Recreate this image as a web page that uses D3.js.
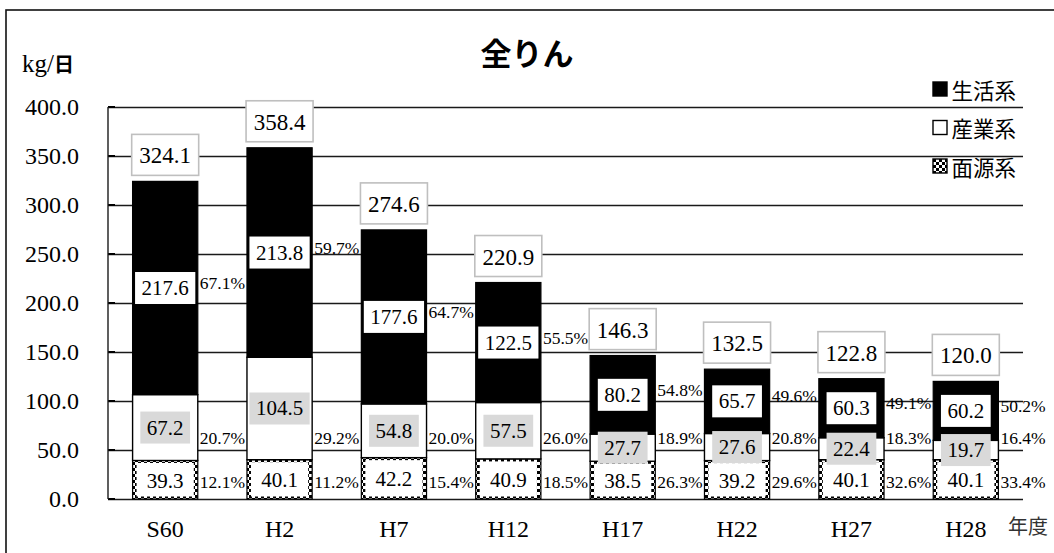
<!DOCTYPE html>
<html>
<head>
<meta charset="utf-8">
<script src="https://cdn.jsdelivr.net/npm/d3@7"></script>
<style>
  html, body { margin: 0; padding: 0; background: #fff; }
  svg { display: block; }
  .serif { font-family: "Liberation Serif", serif; }
  .gothic { font-family: "Noto Sans CJK JP", sans-serif; }
</style>
</head>
<body>
<svg id="chart" width="1054" height="553"></svg>
<script>
// ---------- data ----------
const categories   = ["S60", "H2", "H7", "H12", "H17", "H22", "H27", "H28"];
const lifeValues   = [217.6, 213.8, 177.6, 122.5, 80.2, 65.7, 60.3, 60.2];   // 生活系
const industryVals = [67.2, 104.5, 54.8, 57.5, 27.7, 27.6, 22.4, 19.7];       // 産業系
const nonpointVals = [39.3, 40.1, 42.2, 40.9, 38.5, 39.2, 40.1, 40.1];        // 面源系
const totalValues  = [324.1, 358.4, 274.6, 220.9, 146.3, 132.5, 122.8, 120.0];
const lifePct      = ["67.1%", "59.7%", "64.7%", "55.5%", "54.8%", "49.6%", "49.1%", "50.2%"];
const industryPct  = ["20.7%", "29.2%", "20.0%", "26.0%", "18.9%", "20.8%", "18.3%", "16.4%"];
const nonpointPct  = ["12.1%", "11.2%", "15.4%", "18.5%", "26.3%", "29.6%", "32.6%", "33.4%"];
const yTicks       = [0, 50, 100, 150, 200, 250, 300, 350, 400];
const legendNames  = ["生活系", "産業系", "面源系"];
const titleText    = "全りん";

// ---------- layout ----------
const plotL = 108, plotR = 1023, plotT = 107, plotB = 499;

const svg = d3.select("#chart");

// outer frame
svg.append("rect").attr("x", 6).attr("y", 10).attr("width", 1200).attr("height", 700)
  .attr("fill", "none").attr("stroke", "#111").attr("stroke-width", 1.6);

// checker pattern
const defs = svg.append("defs");
const pat = defs.append("pattern").attr("id", "checker").attr("patternUnits", "userSpaceOnUse")
  .attr("width", 6).attr("height", 6);
pat.append("rect").attr("width", 6).attr("height", 6).attr("fill", "#fff");
pat.append("rect").attr("x", 0).attr("y", 0).attr("width", 3).attr("height", 3).attr("fill", "#000");
pat.append("rect").attr("x", 3).attr("y", 3).attr("width", 3).attr("height", 3).attr("fill", "#000");

const x = d3.scaleBand().domain(categories).range([plotL, plotR]).paddingInner(0.43).paddingOuter(0.215);
const y = d3.scaleLinear().domain([0, 400]).range([plotB, plotT]);
const bw = x.bandwidth();

// y axis with gridlines
const yAxis = d3.axisLeft(y).tickValues(yTicks).tickFormat(d3.format(".1f"))
  .tickSize(-(plotR - plotL)).tickPadding(29);
const gy = svg.append("g").attr("transform", `translate(${plotL},0)`).call(yAxis)
  .attr("font-family", null).attr("font-size", null);
gy.select(".domain").remove();
gy.selectAll(".tick line").attr("stroke", "#1a1a1a").attr("stroke-width", 1.4);
gy.selectAll(".tick text").attr("class", "serif").style("font-size", "24px").attr("fill", "#000");
// small inward tick marks
svg.append("g").selectAll("line").data(yTicks).join("line")
  .attr("x1", plotL).attr("x2", plotL + 7).attr("y1", d => y(d)).attr("y2", d => y(d))
  .attr("stroke", "#000").attr("stroke-width", 2);
// vertical axis line
svg.append("line").attr("x1", plotL).attr("x2", plotL).attr("y1", y(400)).attr("y2", y(0))
  .attr("stroke", "#1a1a1a").attr("stroke-width", 1.4);

// x axis labels
const xAxis = d3.axisBottom(x).tickSize(0).tickPadding(0);
const gx = svg.append("g").attr("transform", `translate(0,${plotB})`).call(xAxis)
  .attr("font-family", null).attr("font-size", null);
gx.select(".domain").remove();
gx.selectAll(".tick text").attr("class", "serif").style("font-size", "24px").attr("fill", "#000")
  .attr("dy", null).attr("y", 38);

// stacked bars
const rows = categories.map((c, i) => ({
  c, i,
  n0: 0, n1: nonpointVals[i],
  p0: nonpointVals[i], p1: nonpointVals[i] + industryVals[i],
  l0: nonpointVals[i] + industryVals[i], l1: nonpointVals[i] + industryVals[i] + lifeValues[i]
}));

const gBars = svg.append("g");
gBars.selectAll("rect.np").data(rows).join("rect").attr("class", "np")
  .attr("x", d => x(d.c)).attr("width", bw)
  .attr("y", d => y(d.n1)).attr("height", d => y(d.n0) - y(d.n1))
  .attr("fill", "url(#checker)").attr("stroke", "#000").attr("stroke-width", 1.2);
gBars.selectAll("rect.ind").data(rows).join("rect").attr("class", "ind")
  .attr("x", d => x(d.c)).attr("width", bw)
  .attr("y", d => y(d.p1)).attr("height", d => y(d.p0) - y(d.p1))
  .attr("fill", "#fff").attr("stroke", "#000").attr("stroke-width", 1.4);
gBars.selectAll("rect.life").data(rows).join("rect").attr("class", "life")
  .attr("x", d => x(d.c)).attr("width", bw)
  .attr("y", d => y(d.l1)).attr("height", d => y(d.l0) - y(d.l1))
  .attr("fill", "#000").attr("stroke", "#000").attr("stroke-width", 1.2);

const gLab = svg.append("g");
function serifText(sel, size) {
  return sel.attr("class", "serif").style("font-size", size + "px").attr("fill", "#000");
}
// 面源系 value labels (white inset box)
rows.forEach(d => {
  const bx = x(d.c) + 4, by = y(d.n1) + 2.5, bh = y(0) - 2.5 - by;
  gLab.append("rect").attr("x", bx).attr("y", by).attr("width", bw - 8).attr("height", bh).attr("fill", "#fff");
  serifText(gLab.append("text"), 21).attr("x", x(d.c) + bw / 2).attr("y", by + bh / 2 + 1)
    .attr("text-anchor", "middle").attr("dominant-baseline", "central")
    .text(nonpointVals[d.i].toFixed(1));
});

function boxedLabel(cx, cy, txt, fill) {
  const g = gLab.append("g");
  const r = g.append("rect").attr("fill", fill);
  const t = serifText(g.append("text"), 21).attr("x", cx).attr("y", cy).attr("text-anchor", "middle")
    .attr("dominant-baseline", "central").text(txt);
  const w = t.node().getComputedTextLength() + 13;
  const h = 32;
  r.attr("x", cx - w / 2).attr("y", cy - h / 2).attr("width", w).attr("height", h);
}
rows.forEach(d => boxedLabel(x(d.c) + bw / 2, y((d.p0 + d.p1) / 2), industryVals[d.i].toFixed(1), "#d9d9d9"));
rows.forEach(d => boxedLabel(x(d.c) + bw / 2, y((d.l0 + d.l1) / 2), lifeValues[d.i].toFixed(1), "#fff"));

// total labels
rows.forEach(d => {
  const cx = x(d.c) + bw / 2, bottom = y(totalValues[d.i]) - 6, h = 41, w = 67;
  gLab.append("rect").attr("x", cx - w / 2).attr("y", bottom - h).attr("width", w).attr("height", h)
    .attr("fill", "#fff").attr("stroke", "#bfbfbf").attr("stroke-width", 1.6);
  serifText(gLab.append("text"), 23).attr("x", cx).attr("y", bottom - h / 2 + 1).attr("text-anchor", "middle")
    .attr("dominant-baseline", "central").text(totalValues[d.i].toFixed(1));
});

// percentage labels
const industryPctLevel = 62, nonpointPctLevel = 17.5;
rows.forEach(d => {
  const lx = x(d.c) + bw + 2;
  serifText(gLab.append("text"), 17.5).attr("x", lx).attr("y", y((d.l0 + d.l1) / 2) + 1).text(lifePct[d.i]);
  serifText(gLab.append("text"), 17.5).attr("x", lx).attr("y", y(industryPctLevel))
    .attr("dominant-baseline", "central").text(industryPct[d.i]);
  serifText(gLab.append("text"), 17.5).attr("x", lx).attr("y", y(nonpointPctLevel))
    .attr("dominant-baseline", "central").text(nonpointPct[d.i]);
});

// title
svg.append("text").attr("class", "gothic").attr("x", 527).attr("y", 51).attr("text-anchor", "middle")
  .attr("dominant-baseline", "central").style("font-weight", "bold").style("font-size", "31px").text(titleText);

// unit label
const unit = svg.append("text").attr("x", 22).attr("y", 72);
unit.append("tspan").attr("class", "serif").style("font-size", "25px").text("kg/");
unit.append("tspan").attr("class", "gothic").style("font-weight", "bold").style("font-size", "20px").text("日");

// 年度
svg.append("text").attr("class", "gothic").attr("x", 1008).attr("y", 525).attr("dominant-baseline", "central")
  .style("font-size", "20px").attr("fill", "#333").text("年度");

// legend
const legendFills = ["#000", "#fff", "url(#checker)"];
const gLeg = svg.append("g");
legendNames.forEach((name, i) => {
  const cy = 89 + i * 38.5;
  gLeg.append("rect").attr("x", 933).attr("y", cy - 7).attr("width", 14).attr("height", 14)
    .attr("fill", legendFills[i]).attr("stroke", "#000").attr("stroke-width", 1.4);
  gLeg.append("text").attr("class", "gothic").attr("x", 1016).attr("y", cy).attr("text-anchor", "end")
    .attr("dominant-baseline", "central").style("font-size", "21.5px").text(name);
});
</script>
</body>
</html>
